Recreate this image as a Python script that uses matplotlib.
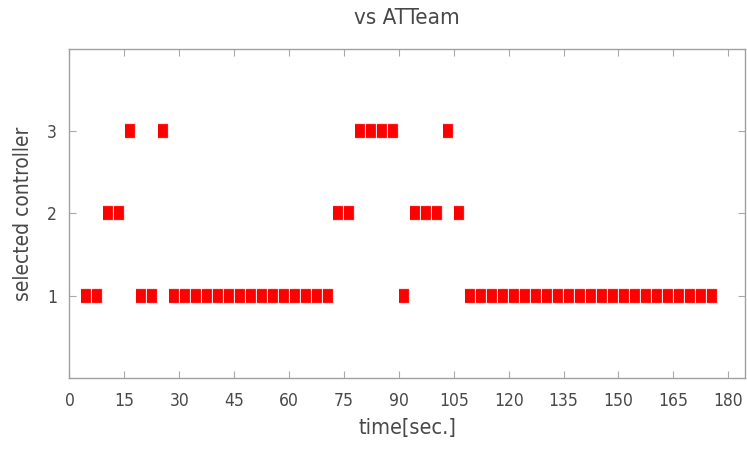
import matplotlib.pyplot as plt

# time of each sample [sec.] and the controller selected at that time
times = [4.5, 7.5, 10.5, 13.5, 16.5, 19.5, 22.5, 25.5, 28.5, 31.5,
         34.5, 37.5, 40.5, 43.5, 46.5, 49.5, 52.5, 55.5, 58.5, 61.5,
         64.5, 67.5, 70.5, 73.5, 76.5, 79.5, 82.5, 85.5, 88.5, 91.5,
         94.5, 97.5, 100.5, 103.5, 106.5, 109.5, 112.5, 115.5, 118.5, 121.5,
         124.5, 127.5, 130.5, 133.5, 136.5, 139.5, 142.5, 145.5, 148.5, 151.5,
         154.5, 157.5, 160.5, 163.5, 166.5, 169.5, 172.5, 175.5]
controller = [1, 1, 2, 2, 3, 1, 1, 3, 1, 1,
              1, 1, 1, 1, 1, 1, 1, 1, 1, 1,
              1, 1, 1, 2, 2, 3, 3, 3, 3, 1,
              2, 2, 2, 3, 2, 1, 1, 1, 1, 1,
              1, 1, 1, 1, 1, 1, 1, 1, 1, 1,
              1, 1, 1, 1, 1, 1, 1, 1]
xticks = list(range(0, 181, 15))
yticks = [1, 2, 3]

plt.rcParams['font.family'] = ['DejaVu Sans']
plt.rcParams['font.stretch'] = 'condensed'

fig = plt.figure(figsize=(7.47, 4.49), dpi=100)
ax = fig.add_axes([0.093, 0.158, 0.904, 0.733])

rect = [(-0.39, -0.5), (0.39, -0.5), (0.39, 0.5), (-0.39, 0.5)]
ax.plot(times, controller, linestyle='none', marker=rect, markersize=10,
        color='#ff0000', markeredgecolor='#ff7070', markeredgewidth=0.3)

ax.set_xlim(0, 184.5)
ax.set_ylim(0, 4)
ax.set_xticks(xticks)
ax.set_yticks(yticks)

for s in ax.spines.values():
    s.set_color('#a0a0a0')
    s.set_linewidth(1.0)
ax.tick_params(direction='in', length=5, width=0.8, color='#a8a8a8',
               labelcolor='#484848', labelsize=12.5, top=True, right=True)
ax.tick_params(axis='x', pad=10)
ax.tick_params(axis='y', pad=9)

ax.set_xlabel('time[sec.]', fontsize=15.5, color='#484848', labelpad=6)
ax.set_ylabel('selected controller', fontsize=15, color='#484848', labelpad=10)
ax.set_title('vs ATTeam', fontsize=16, color='#484848', pad=18)

fig.savefig('out.png', dpi=100)
